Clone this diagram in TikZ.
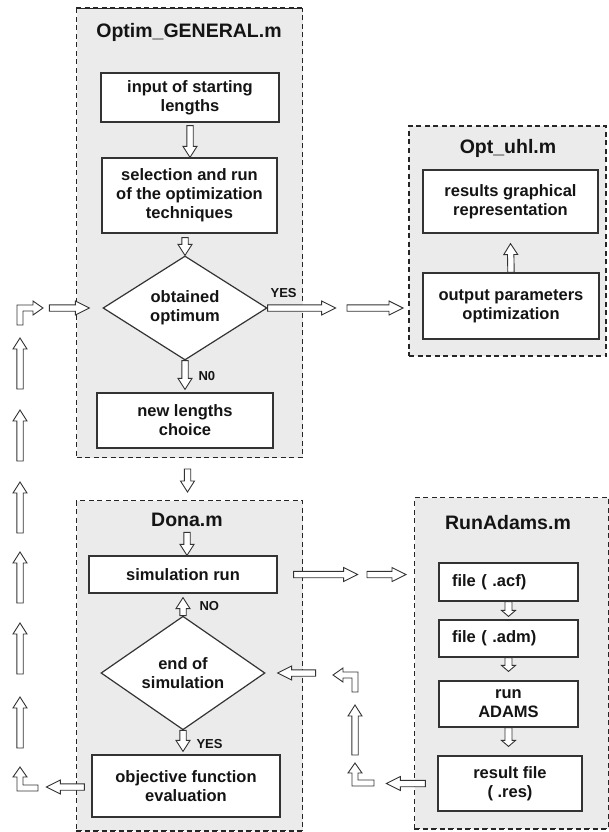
\documentclass[tikz,border=0pt]{standalone}
\usepackage{fontspec}
\setmainfont{Liberation Sans}
\usetikzlibrary{calc,shapes.geometric}
% hollow block arrow from #1 to #2
\def\arsw{3.2pt}\def\arhw{7pt}\def\arhl{11pt}
\newcommand\blkarrow[2]{%
  \path (#1) coordinate (ba) (#2) coordinate (bb);
  \path ($(bb)!\arhl!(ba)$) coordinate (bh);
  \draw[blockarrow] ($(ba)!\arsw!90:(bb)$) -- ($(bh)!\arsw!90:(bb)$) -- ($(bh)!\arhw!90:(bb)$) -- (bb)
    -- ($(bh)!\arhw!-90:(bb)$) -- ($(bh)!\arsw!-90:(bb)$) -- ($(ba)!\arsw!-90:(bb)$) -- cycle;}
\begin{document}
\begin{tikzpicture}[x=1pt,y=-1pt,
  groupbox/.style={draw=black!85,dash pattern=on 5pt off 3.5pt,line width=1pt,fill=black!8,inner sep=0pt,anchor=north west},
  grouptitle/.style={font=\fontsize{19.5}{22}\selectfont\bfseries,text=black!92},
  procbox/.style={draw=black!80,fill=white,line width=1.2pt,align=center,inner sep=2pt,font=\fontsize{16.5}{19}\selectfont\bfseries,text=black!92},
  decide/.style={diamond,draw=black!80,fill=white,line width=1.2pt,inner sep=0pt,align=center,font=\fontsize{16.5}{19}\selectfont\bfseries,text=black!92},
  arrlabel/.style={font=\fontsize{13}{15}\selectfont\bfseries,text=black!92},
  blockarrow/.style={draw=black!80,fill=white,line width=0.9pt}]
\useasboundingbox (0,0) rectangle (609,832);
%
\node[groupbox,minimum width=226pt,minimum height=449pt] (optim) at (76,8) {};
\node[groupbox,minimum width=226pt,minimum height=330pt] (dona) at (76,500) {};
\node[groupbox,line width=2pt,minimum width=197pt,minimum height=230pt] (optuhl) at (408,125) {};
\node[groupbox,minimum width=194pt,minimum height=331pt] (runadams) at (414,497) {};
\draw[black!85,line width=2pt,dash pattern=on 5pt off 3.5pt] (optim.north west)--(optim.north east);
\draw[black!85,line width=2.2pt,dash pattern=on 5pt off 3.5pt] (dona.south west)--(dona.south east);
\draw[black!85,line width=2.2pt,dash pattern=on 5pt off 3.5pt] (runadams.south west)--(runadams.south east);
\node[grouptitle] (optimt) at (189,32) {Optim\_GENERAL.m};
\node[grouptitle] (donat) at (187,520) {Dona.m};
\node[grouptitle] (optuhlt) at (508,148) {Opt\_uhl.m};
\node[grouptitle] (runadamst) at (508,523) {RunAdams.m};
%
\node[procbox,minimum width=178pt,minimum height=49pt] (input) at (190,97.5) {input of starting\\lengths};
\node[procbox,minimum width=175pt,minimum height=75pt] (select) at (189.5,195.5) {selection and run\\of the optimization\\techniques};
\node[decide,minimum width=164pt,minimum height=88pt] (obt) at (185,308) {obtained\\optimum};
\node[procbox,minimum width=176pt,minimum height=55pt] (newlen) at (185,420.5) {new lengths\\choice};
%
\node[procbox,minimum width=188pt,minimum height=37pt] (simrun) at (183,574.5) {simulation run};
\node[decide,minimum width=164pt,minimum height=87pt] (endsim) at (183,673) {end of\\simulation};
\node[procbox,minimum width=188pt,minimum height=62pt] (objfun) at (186,786) {objective function\\evaluation};
%
\node[procbox,minimum width=175pt,minimum height=63pt] (results) at (510.5,201.5) {results graphical\\representation};
\node[procbox,minimum width=176pt,minimum height=66pt] (output) at (511,306) {output parameters\\optimization};
%
\node[procbox,minimum width=139pt,minimum height=38pt,text width=113pt,align=left,inner xsep=13pt] (acf) at (508.5,582) {file ( .acf)};
\node[procbox,minimum width=139pt,minimum height=37pt,text width=113pt,align=left,inner xsep=13pt] (adm) at (508.5,638.5) {file ( .adm)};
\node[procbox,minimum width=139pt,minimum height=46pt] (adams) at (508.5,704) {run\\ADAMS};
\node[procbox,minimum width=144pt,minimum height=55pt] (res) at (510,783.5) {result file\\( .res)};
%
\blkarrow{$(input.south)+(0,3)$}{input.south|-select.north}
\blkarrow{$(obt.north|-select.south)+(0,4)$}{obt.north}
\blkarrow{obt.south}{$(newlen.north)+(0,-3)$}
\node[arrlabel,anchor=west] (n0) at ($(obt.south)+(10,15)$) {N0};
\blkarrow{$(optim.south)+(-2,11)$}{$(dona.north)+(-2,-8)$}
{\def\arhl{14pt}
\blkarrow{obt.east}{$(obt.east)+(68,0)$}
\blkarrow{$(optuhl.west|-obt.east)+(-61,0)$}{$(optuhl.west|-obt.east)+(-5,0)$}
\blkarrow{$(obt.west)+(-53,0)$}{$(obt.west)+(-13,0)$}}
\node[arrlabel] (yes1) at ($(obt.east)+(16,-15)$) {YES};
\blkarrow{output.north}{$(results.south)+(0,10)$}
%
\blkarrow{$(donat.south)+(0,2)$}{donat.south|-simrun.north}
\blkarrow{endsim.north}{$(simrun.south)+(0,4)$}
\node[arrlabel,anchor=west] (no) at ($(endsim.north)+(13,-10)$) {NO};
\blkarrow{endsim.south}{$(endsim.south|-objfun.north)+(0,-3)$}
\node[arrlabel,anchor=west] (yes2) at ($(endsim.south)+(10,14)$) {YES};
{\def\arhl{14pt}
\blkarrow{$(simrun.east)+(16,0)$}{$(simrun.east)+(80,0)$}
\blkarrow{$(runadams.west|-simrun.east)+(-47,0)$}{$(runadams.west|-simrun.east)+(-8,0)$}
\blkarrow{$(objfun.west)+(-7,1)$}{$(objfun.west)+(-45,1)$}
\blkarrow{$(res.west)+(-12,0)$}{$(res.west)+(-51,0)$}
\blkarrow{$(endsim.east)+(50,0)$}{$(endsim.east)+(12,0)$}}
{\def\arsw{3.5pt}\def\arhw{7pt}\def\arhl{6pt}
\blkarrow{acf.south}{$(acf.south|-adm.north)+(0,-3)$}
\blkarrow{adm.south}{$(adm.south|-adams.north)+(0,-9)$}
\blkarrow{adams.south}{$(adams.south|-res.north)+(0,-9)$}}
%
\draw[blockarrow] (374,780)--(358,780)--(358,773)--(362,773)--(355,763)--(348,773)--(352,773)--(352,786)--(374,786)--cycle;
\blkarrow{355,755}{355,705}
\draw[blockarrow] (358,692)--(358,672)--(343,672)--(343,668)--(333,675)--(343,682)--(343,678)--(352,678)--(352,692)--cycle;
%
\draw[blockarrow] (17,325)--(17,305)--(33,305)--(33,301)--(43,308)--(33,315)--(33,311)--(23,311)--(23,325)--cycle;
\foreach \t in {338,410,482,552,623,697}{\blkarrow{20,\t+51}{20,\t}}
\draw[blockarrow] (38,785)--(23,785)--(23,777)--(27,777)--(20,767)--(13,777)--(17,777)--(17,791)--(38,791)--cycle;
\end{tikzpicture}
\end{document}
